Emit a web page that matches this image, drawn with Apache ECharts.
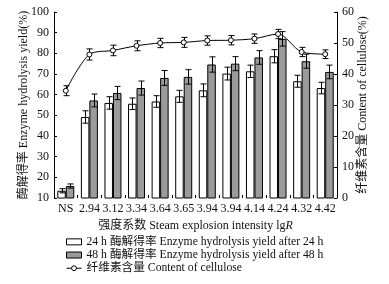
<!DOCTYPE html>
<html>
<head>
<meta charset="utf-8">
<script src="https://cdn.jsdelivr.net/npm/echarts@6/dist/echarts.min.js"></script>
<style>
html, body { margin: 0; padding: 0; background: #fff; }
#chart { width: 389px; height: 284px; }
</style>
</head>
<body>
<div id="chart"></div>
<script>
//数据
var categories = ["NS", "2.94", "3.12", "3.34", "3.64", "3.65", "3.94", "3.94", "4.14", "4.24", "4.32", "4.42"];
var yield24 = [13.5, 49.2, 56, 55.6, 56.7, 59.2, 62.1, 70.2, 71.3, 78.6, 66.5, 63.2];
var yield48 = [15.8, 57.2, 60.8, 63.2, 68.1, 68.6, 74.6, 75, 78, 87, 76.2, 71];
var err24 = [1, 3, 3, 2.8, 2.8, 2.9, 3.1, 3.1, 3, 3.2, 2.9, 2.8];
var err48 = [1, 3.1, 3.2, 3.4, 3.6, 3.5, 3.7, 3.4, 3.3, 3.5, 3.4, 3.3];
var cellulose = [34.6, 46.3, 47.6, 49.1, 50.0, 50.2, 50.8, 50.9, 51.4, 52.9, 47.1, 46.4];
var errCel = [1.6, 1.8, 1.7, 1.6, 1.5, 1.6, 1.5, 1.5, 1.5, 1.5, 1.5, 1.4];
var leftTicks = { min: 10, max: 100, interval: 10 };
var rightTicks = { min: 0, max: 60, interval: 10 };

var FONT = '"Liberation Serif", "Noto Sans CJK SC", serif';
var BAR_W = 8.5;

var chart = echarts.init(document.getElementById("chart"));

//误差棒数据
function errData(vals, errs) {
    var out = [];
    for (var i = 0; i < vals.length; i++) {
        out.push([i, vals[i], errs[i]]);
    }
    return out;
}

//误差棒绘制, offset 为相对类目中心的像素偏移
function errRender(offset) {
    return function(params, api) {
        var i = api.value(0);
        var v = api.value(1);
        var e = api.value(2);
        var hi = api.coord([i, v + e]);
        var lo = api.coord([i, v - e]);
        var x = Math.round(hi[0] + offset) + 0.5;
        var cap = 3;
        var st = { stroke: "#000", lineWidth: 1 };
        return {
            type: "group",
            children: [
                { type: "line", shape: { x1: x, y1: hi[1], x2: x, y2: lo[1] }, style: st },
                { type: "line", shape: { x1: x - cap, y1: hi[1], x2: x + cap, y2: hi[1] }, style: st },
                { type: "line", shape: { x1: x - cap, y1: lo[1], x2: x + cap, y2: lo[1] }, style: st }
            ]
        };
    };
}

var option = {
    animation: false,
    backgroundColor: "#fff",
    textStyle: { fontFamily: FONT },
    grid: {
        left: 54,
        right: 52,
        top: 12,
        bottom: 86
    },
    legend: {
        orient: "vertical",
        left: 66,
        top: 236,
        bottom: 0,
        padding: 0,
        itemWidth: 15,
        itemHeight: 6,
        itemGap: 1.5,
        textStyle: { fontFamily: FONT, fontSize: 11.7, color: "#111" },
        data: [
            { name: "24 h 酶解得率 Enzyme hydrolysis yield after 24 h", icon: "rect", itemStyle: { borderWidth: 1 } },
            { name: "48 h 酶解得率 Enzyme hydrolysis yield after 48 h", icon: "rect", itemStyle: { borderWidth: 1 } },
            { name: "纤维素含量 Content of cellulose", itemStyle: { borderWidth: 1 }, lineStyle: { width: 1 } }
        ]
    },
    xAxis: {
        type: "category",
        data: categories,
        name: "强度系数 Steam explosion intensity lg{i|R}",
        nameLocation: "middle",
        nameGap: 18,
        nameTextStyle: {
            fontFamily: FONT,
            fontSize: 12,
            color: "#111",
            rich: { i: { fontFamily: FONT, fontSize: 12, fontStyle: "italic", color: "#111" } }
        },
        axisLine: { show: false },
        axisTick: { show: true, inside: true, length: 3, lineStyle: { color: "#000" } },
        axisLabel: { fontFamily: FONT, fontSize: 12, color: "#111", margin: 5, interval: 0 }
    },
    yAxis: [
        {
            type: "value",
            min: leftTicks.min,
            max: leftTicks.max,
            interval: leftTicks.interval,
            name: "酶解得率 Enzyme hydrolysis yield(%)",
            nameLocation: "middle",
            nameGap: 24,
            nameMoveOverlap: false,
            nameTextStyle: { fontFamily: FONT, fontSize: 12, color: "#111" },
            axisLine: { show: true, lineStyle: { color: "#000" } },
            axisTick: { show: true, inside: true, length: 3, lineStyle: { color: "#000" } },
            axisLabel: { fontFamily: FONT, fontSize: 12, color: "#111", margin: 5 },
            splitLine: { show: false }
        },
        {
            type: "value",
            min: rightTicks.min,
            max: rightTicks.max,
            interval: rightTicks.interval,
            name: "纤维素含量 Content of cellulose(%)",
            nameLocation: "middle",
            nameRotate: 90,
            nameGap: 20,
            nameMoveOverlap: false,
            nameTextStyle: { fontFamily: FONT, fontSize: 12, color: "#111" },
            axisLine: { show: true, lineStyle: { color: "#000" } },
            axisTick: { show: true, inside: true, length: 3, lineStyle: { color: "#000" } },
            axisLabel: { fontFamily: FONT, fontSize: 12, color: "#111", margin: 5 },
            splitLine: { show: false }
        }
    ],
    series: [
        {
            name: "24 h 酶解得率 Enzyme hydrolysis yield after 24 h",
            type: "bar",
            barWidth: BAR_W,
            barGap: "0%",
            itemStyle: { color: "#fff", borderColor: "#000", borderWidth: 1 },
            data: yield24
        },
        {
            name: "48 h 酶解得率 Enzyme hydrolysis yield after 48 h",
            type: "bar",
            barWidth: BAR_W,
            barGap: "0%",
            itemStyle: { color: "#9b9b9b", borderColor: "#000", borderWidth: 1 },
            data: yield48
        },
        {
            name: "纤维素含量 Content of cellulose",
            type: "line",
            yAxisIndex: 1,
            smooth: 0.3,
            symbol: "circle",
            symbolSize: 5,
            lineStyle: { color: "#000", width: 1 },
            itemStyle: { color: "#fff", borderColor: "#000", borderWidth: 1 },
            data: cellulose,
            z: 4
        },
        {
            type: "custom",
            renderItem: errRender(-BAR_W / 2),
            encode: { x: 0, y: 1 },
            data: errData(yield24, err24),
            z: 5
        },
        {
            type: "custom",
            renderItem: errRender(BAR_W / 2),
            encode: { x: 0, y: 1 },
            data: errData(yield48, err48),
            z: 5
        },
        {
            type: "custom",
            yAxisIndex: 1,
            renderItem: errRender(0),
            encode: { x: 0, y: 1 },
            data: errData(cellulose, errCel),
            z: 3
        }
    ]
};

//使用以上配置项配置图表
chart.setOption(option);
</script>
</body>
</html>
